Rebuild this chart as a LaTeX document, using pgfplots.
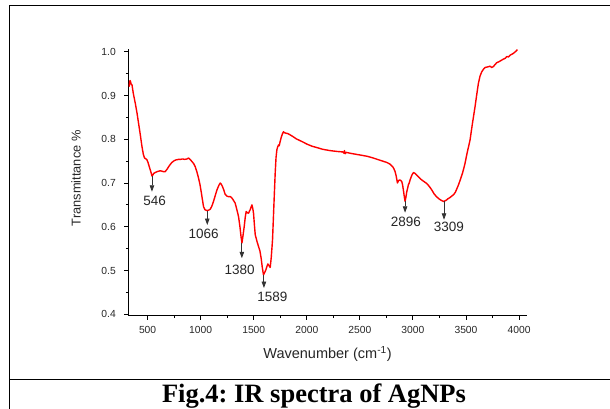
\documentclass[border=0pt]{standalone}
\usepackage{pgfplots}
\pgfplotsset{compat=1.18}
\usepackage{fontspec}
\setmainfont{Liberation Sans}
\newfontfamily\capfont{Liberation Serif}
\usetikzlibrary{arrows.meta}
\frenchspacing

\pgfplotstableread{
x y
327 0.920
330 0.932
336 0.934
345 0.926
353 0.924
365 0.905
384 0.882
400 0.860
415 0.836
430 0.812
447 0.783
460 0.765
471 0.757
485 0.755
494 0.753
505 0.746
516 0.737
530 0.726
541 0.716
548 0.718
558 0.722
572 0.724
590 0.726
605 0.727
619 0.728
635 0.727
650 0.726
666 0.726
675 0.729
682 0.731
700 0.738
715 0.743
729 0.747
750 0.751
770 0.753
792 0.754
810 0.754
830 0.755
850 0.754
871 0.755
886 0.757
900 0.754
918 0.749
935 0.744
949 0.737
965 0.725
980 0.711
993 0.697
1005 0.680
1015 0.664
1027 0.646
1040 0.639
1059 0.637
1075 0.638
1090 0.640
1105 0.647
1121 0.658
1138 0.672
1153 0.684
1170 0.694
1184 0.700
1195 0.697
1205 0.692
1215 0.686
1231 0.674
1247 0.670
1260 0.669
1278 0.669
1290 0.667
1305 0.662
1325 0.654
1340 0.640
1357 0.623
1370 0.600
1380 0.578
1389 0.563
1400 0.582
1410 0.600
1420 0.622
1429 0.635
1440 0.632
1451 0.631
1460 0.636
1467 0.639
1475 0.645
1483 0.650
1490 0.643
1498 0.631
1506 0.605
1514 0.582
1530 0.567
1545 0.555
1558 0.545
1570 0.528
1580 0.508
1592 0.490
1604 0.496
1615 0.502
1625 0.510
1633 0.515
1642 0.512
1655 0.507
1665 0.530
1677 0.570
1690 0.650
1702 0.722
1710 0.758
1718 0.776
1725 0.782
1733 0.787
1740 0.785
1749 0.795
1760 0.805
1770 0.812
1780 0.817
1790 0.815
1800 0.814
1820 0.813
1843 0.810
1870 0.806
1900 0.801
1935 0.797
1969 0.793
2000 0.789
2050 0.784
2095 0.781
2150 0.777
2220 0.774
2290 0.772
2340 0.771
2350 0.768
2355 0.774
2362 0.767
2370 0.770
2430 0.767
2503 0.764
2570 0.761
2628 0.757
2690 0.752
2754 0.747
2785 0.743
2810 0.737
2822 0.732
2832 0.726
2843 0.715
2854 0.700
2863 0.705
2873 0.707
2885 0.706
2895 0.703
2903 0.695
2910 0.684
2918 0.670
2926 0.658
2934 0.668
2942 0.680
2950 0.688
2957 0.696
2965 0.700
2973 0.707
2990 0.718
3005 0.724
3020 0.722
3036 0.718
3060 0.712
3083 0.707
3100 0.704
3130 0.699
3155 0.692
3178 0.684
3200 0.675
3225 0.668
3250 0.663
3270 0.660
3287 0.658
3310 0.660
3330 0.664
3350 0.667
3366 0.670
3385 0.674
3400 0.679
3428 0.695
3450 0.710
3470 0.725
3491 0.745
3510 0.768
3538 0.798
3560 0.835
3585 0.874
3600 0.900
3617 0.928
3632 0.944
3648 0.954
3665 0.960
3680 0.964
3700 0.965
3715 0.966
3727 0.967
3742 0.964
3758 0.966
3775 0.971
3790 0.975
3810 0.977
3830 0.980
3852 0.983
3870 0.985
3885 0.989
3900 0.988
3915 0.992
3930 0.994
3945 0.996
3960 0.999
3975 1.002
3984 1.005
}\spectrum

\begin{document}
\begin{tikzpicture}
\useasboundingbox (0pt,0pt) rectangle (610pt,-408pt);
\draw[line width=1.2pt] (9.3pt,-420pt) -- (9.3pt,-5.3pt) -- (620pt,-5.3pt);
\draw[line width=1.2pt] (9.3pt,-379.5pt) -- (620pt,-379.5pt);
\node[font=\fontsize{26.5}{28}\selectfont\capfont\bfseries, anchor=base, inner sep=0pt] at (314pt,-402.7pt) {Fig.4: IR spectra of AgNPs};
\begin{axis}[
  at={(128.3pt,-315.7pt)}, anchor=south west,
  scale only axis, width=398.4pt, height=266.4pt,
  xmin=318, xmax=4072, ymin=0.3968, ymax=1.0055,
  axis lines*=left,
  axis line style={line width=1.1pt, -},
  xtick={500,1000,...,4000}, minor x tick num=1,
  ytick={0.4,0.5,0.6,0.7,0.8,0.9,1.0}, minor y tick num=1,
  tick align=outside, major tick length=4pt, minor tick length=2.5pt,
  tick style={black, line width=0.9pt},
  /pgf/number format/assume math mode=true,
  ticklabel style={font=\fontsize{10.3}{11}\selectfont, text=black!85},
  y tick label style={/pgf/number format/fixed, /pgf/number format/precision=1, /pgf/number format/fixed zerofill},
  x tick label style={/pgf/number format/1000 sep={}},
  xticklabel style={yshift=-3pt},
  yticklabel style={xshift=-5pt},
  xlabel={Wavenumber (cm\textsuperscript{-1})},
  ylabel={Transmittance \%},
  xlabel style={at={(axis description cs:0.5,0)}, anchor=base, yshift=-42.8pt, font=\fontsize{14.5}{16}\selectfont, text=black!85},
  ylabel style={at={(axis description cs:0,0.516)}, anchor=base, yshift=47.6pt, font=\fontsize{12.8}{14}\selectfont, text=black!85},
  clip=false,
]
\addplot[red, line width=1.4pt, line join=round] table[x=x,y=y] {\spectrum};
\begin{scope}[font=\fontsize{13.5}{15}\selectfont, text=black!85]
\draw[black!80, line width=0.9pt, -{Triangle[length=6.5pt,width=4.5pt]}] (axis cs:541,0.715) -- (axis cs:541,0.680);
\node at (axis cs:566,0.6584) {546};
\draw[black!80, line width=0.9pt, -{Triangle[length=6.5pt,width=4.5pt]}] (axis cs:1062,0.637) -- (axis cs:1062,0.604);
\node at (axis cs:1027,0.5845) {1066};
\draw[black!80, line width=0.9pt, -{Triangle[length=6.5pt,width=4.5pt]}] (axis cs:1388,0.563) -- (axis cs:1388,0.528);
\node at (axis cs:1366,0.5023) {1380};
\draw[black!80, line width=0.9pt, -{Triangle[length=6.5pt,width=4.5pt]}] (axis cs:1596,0.490) -- (axis cs:1596,0.460);
\node at (axis cs:1676,0.440) {1589};
\draw[black!80, line width=0.9pt, -{Triangle[length=6.5pt,width=4.5pt]}] (axis cs:2926,0.658) -- (axis cs:2926,0.632);
\node at (axis cs:2934,0.612) {2896};
\draw[black!80, line width=0.9pt, -{Triangle[length=6.5pt,width=4.5pt]}] (axis cs:3293,0.658) -- (axis cs:3293,0.616);
\node at (axis cs:3339,0.599) {3309};
\end{scope}
\end{axis}
\end{tikzpicture}
\end{document}
